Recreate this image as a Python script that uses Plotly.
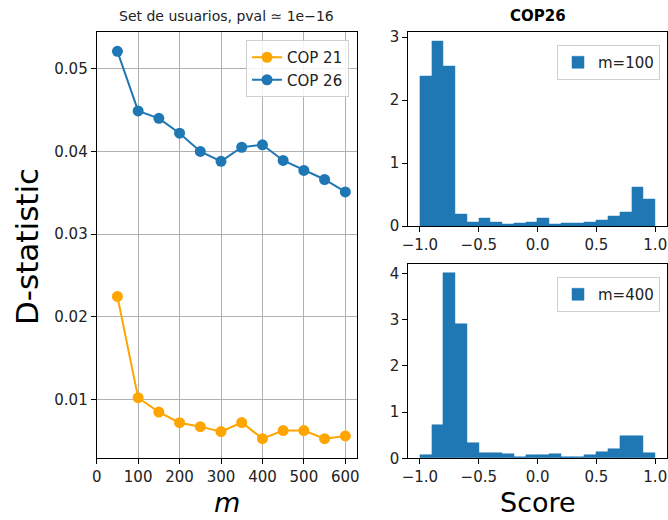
import numpy as np
import plotly.graph_objects as go

# ---- data ----
m_values = [50, 100, 150, 200, 250, 300, 350, 400, 450, 500, 550, 600]
d_cop21 = [0.02245, 0.0102, 0.00847, 0.00718, 0.0067, 0.0061, 0.0072, 0.00525, 0.00622, 0.00622, 0.00525, 0.00558]
d_cop26 = [0.0521, 0.0449, 0.0440, 0.0422, 0.0400, 0.0388, 0.0405, 0.0408, 0.0389, 0.0377, 0.0366, 0.0351]

bin_left_edges = [-1.0, -0.9, -0.8, -0.7, -0.6, -0.5, -0.4, -0.3, -0.2, -0.1,
                  0.0, 0.1, 0.2, 0.3, 0.4, 0.5, 0.6, 0.7, 0.8, 0.9]
bin_width = 0.1
dens_m100 = [2.38, 2.93, 2.53, 0.185, 0.058, 0.127, 0.058, 0.02, 0.037, 0.058,
             0.127, 0.02, 0.037, 0.037, 0.058, 0.095, 0.148, 0.222, 0.608, 0.423]
dens_m400 = [0.065, 0.715, 4.0, 2.91, 0.34, 0.108, 0.108, 0.087, 0.036, 0.065,
             0.065, 0.087, 0.036, 0.036, 0.065, 0.137, 0.21, 0.49, 0.49, 0.108]

left_xticks = [0, 100, 200, 300, 400, 500, 600]
left_yticks = [0.01, 0.02, 0.03, 0.04, 0.05]
left_yticklabels = ["0.01", "0.02", "0.03", "0.04", "0.05"]
score_ticks = [-1.0, -0.5, 0.0, 0.5, 1.0]
score_ticklabels = ["\u22121.0", "\u22120.5", "0.0", "0.5", "1.0"]

ORANGE = "#FFA500"
BLUE = "#1f77b4"
FONT = "DejaVu Sans"

fig = go.Figure()

fig.add_trace(go.Scatter(x=m_values, y=d_cop21, mode="lines+markers", name="COP 21",
                         line=dict(color=ORANGE, width=2), marker=dict(color=ORANGE, size=11),
                         xaxis="x", yaxis="y", legend="legend"))
fig.add_trace(go.Scatter(x=m_values, y=d_cop26, mode="lines+markers", name="COP 26",
                         line=dict(color=BLUE, width=2), marker=dict(color=BLUE, size=11),
                         xaxis="x", yaxis="y", legend="legend"))

fig.add_trace(go.Bar(x=bin_left_edges, y=dens_m100, width=bin_width, offset=0, name="m=100",
                     marker=dict(color=BLUE, line=dict(width=0.5, color=BLUE)),
                     xaxis="x2", yaxis="y2", legend="legend2"))
fig.add_trace(go.Bar(x=bin_left_edges, y=dens_m400, width=bin_width, offset=0, name="m=400",
                     marker=dict(color=BLUE, line=dict(width=0.5, color=BLUE)),
                     xaxis="x3", yaxis="y3", legend="legend3"))

all_d = d_cop21 + d_cop26
ymin, ymax = min(all_d), max(all_d)
pad = 0.05 * (ymax - ymin)

axis_common = dict(showline=True, mirror=True, linecolor="black", linewidth=1,
                   ticks="outside", ticklen=5, tickwidth=1, tickcolor="black",
                   zeroline=False, automargin=False,
                   tickfont=dict(family=FONT, size=15, color="#222"))

left_dom_x = [96.7 / 668, 356.7 / 668]
right_dom_x = [408.2 / 668, 667 / 668]

legend_style = dict(xanchor="right", yanchor="top",
                    bgcolor="rgba(255,255,255,0.85)", bordercolor="#d0d0d0", borderwidth=1,
                    font=dict(family=FONT, size=15, color="#222"))

fig.update_layout(
    width=668, height=520,
    margin=dict(l=0, r=0, t=0, b=0, autoexpand=False),
    paper_bgcolor="white", plot_bgcolor="white",
    bargap=0,
    font=dict(family=FONT, size=15, color="black"),
    xaxis=dict(domain=left_dom_x, range=[0, 627.5], tickvals=left_xticks,
               showgrid=True, gridcolor="#b0b0b0", gridwidth=1, anchor="y", **axis_common),
    yaxis=dict(domain=[1 - 458 / 520, 1 - 32 / 520], range=[ymin - pad, ymax + pad],
               tickvals=left_yticks, ticktext=left_yticklabels,
               showgrid=True, gridcolor="#b0b0b0", gridwidth=1, anchor="x", **axis_common),
    xaxis2=dict(domain=right_dom_x, range=[-1.1, 1.1], tickvals=score_ticks, ticktext=score_ticklabels,
                showgrid=False, anchor="y2", **axis_common),
    yaxis2=dict(domain=[1 - 226 / 520, 1 - 32.3 / 520], range=[0, max(dens_m100) * 1.05],
                tickvals=[0, 1, 2, 3], showgrid=False, anchor="x2", **axis_common),
    xaxis3=dict(domain=right_dom_x, range=[-1.1, 1.1], tickvals=score_ticks, ticktext=score_ticklabels,
                showgrid=False, anchor="y3", **axis_common),
    yaxis3=dict(domain=[1 - 458.3 / 520, 1 - 264 / 520], range=[0, max(dens_m400) * 1.05],
                tickvals=[0, 1, 2, 3, 4], showgrid=False, anchor="x3", **axis_common),
    legend=dict(x=349 / 668, y=1 - 40 / 520, **legend_style),
    legend2=dict(x=660 / 668, y=1 - 45 / 520, **legend_style),
    legend3=dict(x=660 / 668, y=1 - 277 / 520, **legend_style),
)

annotations = [
    dict(text="Set de usuarios, pval \u2243 1e\u221216", x=226.7 / 668, y=1 - 16 / 520,
         yanchor="middle", font=dict(family=FONT, size=14, color="#222")),
    dict(text="<b>COP26</b>", x=537.6 / 668, y=1 - 16 / 520,
         yanchor="middle", font=dict(family=FONT, size=15, color="black")),
    dict(text="D-statistic", x=27 / 668, y=1 - 247 / 520, textangle=-90,
         yanchor="middle", font=dict(family=FONT, size=31, color="black")),
    dict(text="<i>m</i>", x=226.7 / 668, y=0.5 / 520, yanchor="bottom",
         font=dict(family=FONT, size=27, color="black")),
    dict(text="Score", x=537.6 / 668, y=0.5 / 520, yanchor="bottom",
         font=dict(family=FONT, size=27, color="black")),
]
for a in annotations:
    fig.add_annotation(xref="paper", yref="paper", showarrow=False,
                       xanchor="center", **a)

fig.write_html("out.html")
